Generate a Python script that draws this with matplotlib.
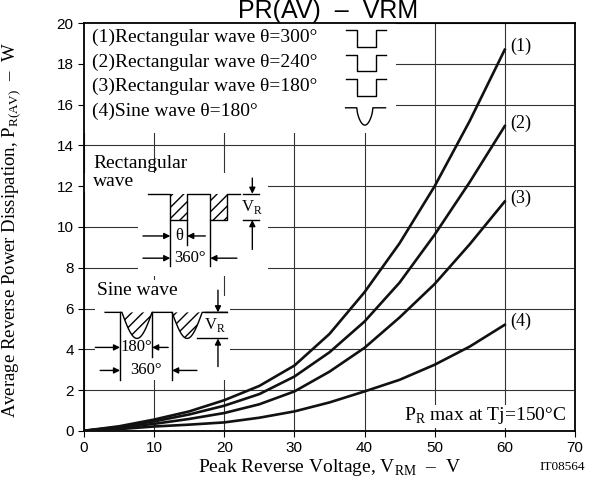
import numpy as np
import matplotlib.pyplot as plt
from matplotlib.patches import Rectangle

plt.rcParams['mathtext.fontset'] = 'custom'
plt.rcParams['mathtext.rm'] = 'Liberation Serif'
plt.rcParams['mathtext.sf'] = 'Liberation Sans'

SERIF = 'Liberation Serif'
SANS = 'Liberation Sans'

# values, every 5 V
voltage = [0, 5, 10, 15, 20, 25, 30, 35, 40, 45, 50, 55, 60]
p_rect300 = [0, 0.22, 0.55, 0.95, 1.5, 2.2, 3.2, 4.75, 6.8, 9.2, 12.0, 15.2, 18.7]
p_rect240 = [0, 0.18, 0.46, 0.8, 1.23, 1.8, 2.66, 3.85, 5.36, 7.27, 9.62, 12.2, 14.95]
p_rect180 = [0, 0.14, 0.34, 0.58, 0.87, 1.3, 1.93, 2.9, 4.07, 5.56, 7.2, 9.15, 11.25]
p_sine180 = [0, 0.08, 0.21, 0.3, 0.41, 0.64, 0.95, 1.39, 1.93, 2.5, 3.24, 4.13, 5.2]
curves = [p_rect300, p_rect240, p_rect180, p_sine180]
curve_tags = ['(1)', '(2)', '(3)', '(4)']

legend_lines = ['(1)Rectangular wave θ=300°',
                '(2)Rectangular wave θ=240°',
                '(3)Rectangular wave θ=180°',
                '(4)Sine wave θ=180°']

fig = plt.figure(figsize=(5.92, 4.84), dpi=100)
ax = fig.add_axes([0.142, 0.11, 0.829, 0.842])

ax.set_xlim(0, 70)
ax.set_ylim(0, 20)
ax.set_xticks(range(0, 71, 10))
ax.set_yticks(range(0, 21, 2))
ax.set_axisbelow(True)
ax.grid(True, color='#333333', linewidth=0.8)
ax.tick_params(labelsize=11, length=4, width=0.8, direction='out')
for lab in ax.get_xticklabels() + ax.get_yticklabels():
    lab.set_family(SANS)
for s in ax.spines.values():
    s.set_linewidth(1.3)

# white areas that cut the grid behind texts and sketches
masks = [(0, 14.6, 44.5, 5.4),
         (0, 11.7, 26.2, 0.95),
         (7.7, 7.6, 18.5, 4.2),
         (1.6, 2.5, 19.2, 4.1),
         (1.6, 6.6, 11.5, 0.8),
         (42.5, 0.15, 26.4, 1.1)]
for mx, my, mw, mh in masks:
    ax.add_patch(Rectangle((mx, my), mw, mh, facecolor='white', edgecolor='none', zorder=1))

for vals, tag in zip(curves, curve_tags):
    ax.plot(voltage, vals, color='#111111', linewidth=1.9, zorder=3,
            solid_joinstyle='round')
    ax.text(voltage[-1] + 0.8, vals[-1] + 0.15, tag, family=SERIF, fontsize=13,
            va='center', ha='left', zorder=4)

# legend texts with small wave icons
for i, line in enumerate(legend_lines):
    y = 19.3 - i * 1.2
    ax.text(1.1, y, line, family=SERIF, fontsize=14, va='center', ha='left', zorder=4)

lw = 1.0
for i in range(3):
    top = 19.65 - i * 1.2
    bot = top - 0.8
    ax.plot([37.3, 38.9, 38.9, 41.6, 41.6, 43.0], [top, top, bot, bot, top, top],
            color='black', linewidth=lw, zorder=4)
st = np.linspace(0, 1, 30)
sx = np.concatenate([[37.3], 38.9 + 2.3 * st, [43.0]])
sy = np.concatenate([[15.85], 15.85 - 0.85 * np.sin(np.pi * st) ** 0.6, [15.85]])
ax.plot(sx, sy, color='black', linewidth=lw, zorder=4)

# rectangular wave sketch
ax.text(1.3, 13.1, 'Rectangular', family=SERIF, fontsize=14, va='center', zorder=4)
ax.text(1.3, 12.25, 'wave', family=SERIF, fontsize=14, va='center', zorder=4)
rt, rb = 11.63, 10.34
ax.plot([9.1, 12.3, 12.3, 14.7, 14.7, 18.0, 18.0, 20.4, 20.4, 22.3],
        [rt, rt, rb, rb, rt, rt, rb, rb, rt, rt], color='black', linewidth=lw, zorder=4)
for a, b in [(12.3, 14.7), (18.0, 20.4)]:
    ax.add_patch(Rectangle((a, rb), b - a, rt - rb, facecolor='white', edgecolor='black',
                           linewidth=0, hatch='///', zorder=3))
ax.plot([12.3, 12.3], [rb, 8.1], color='black', linewidth=lw, zorder=4)
ax.plot([14.7, 14.7], [rb, 9.1], color='black', linewidth=lw, zorder=4)
ax.plot([18.0, 18.0], [rb, 8.1], color='black', linewidth=lw, zorder=4)
arr = dict(arrowstyle='-|>', color='black', lw=lw, mutation_scale=9, shrinkA=0, shrinkB=0)
ax.annotate('', xy=(12.3, 9.56), xytext=(8.4, 9.56), arrowprops=arr, zorder=4)
ax.annotate('', xy=(14.7, 9.56), xytext=(17.3, 9.56), arrowprops=arr, zorder=4)
ax.text(13.5, 9.56, 'θ', family=SERIF, fontsize=12, ha='center', va='center', zorder=4)
ax.annotate('', xy=(12.3, 8.47), xytext=(8.4, 8.47), arrowprops=arr, zorder=4)
ax.annotate('', xy=(18.0, 8.47), xytext=(21.8, 8.47), arrowprops=arr, zorder=4)
ax.text(15.15, 8.47, '360°', family=SERIF, fontsize=12, ha='center', va='center', zorder=4)
ax.plot([22.7, 25.0], [rt, rt], color='black', linewidth=lw, zorder=4)
ax.plot([22.7, 25.0], [rb, rb], color='black', linewidth=lw, zorder=4)
ax.annotate('', xy=(24.0, rt), xytext=(24.0, 12.4), arrowprops=arr, zorder=4)
ax.annotate('', xy=(24.0, rb), xytext=(24.0, 8.9), arrowprops=arr, zorder=4)
ax.text(24.0, 10.98, r'V$_\mathrm{R}$', family=SERIF, fontsize=12, ha='center', va='center', zorder=4)

# sine wave sketch
ax.text(1.85, 6.9, 'Sine wave', family=SERIF, fontsize=14, va='center', zorder=4)
top, dep = 5.81, 1.28
wx, wy = [3.0], [top]
for a, b in [(5.4, 9.7), (12.55, 16.85)]:
    xs = a + (b - a) * st
    ys = top - dep * np.sin(np.pi * st)
    ax.fill_between(xs, ys, top, facecolor='white', edgecolor='black', linewidth=0,
                    hatch='///', zorder=3)
    wx += list(xs)
    wy += list(ys)
wx.append(20.4)
wy.append(top)
ax.plot(wx, wy, color='black', linewidth=lw, zorder=4)
ax.plot([5.14, 5.14], [top, 2.5], color='black', linewidth=lw, zorder=4)
ax.plot([9.7, 9.7], [top, 3.6], color='black', linewidth=lw, zorder=4)
ax.plot([12.55, 12.55], [top, 2.5], color='black', linewidth=lw, zorder=4)
ax.annotate('', xy=(5.14, 4.09), xytext=(1.6, 4.09), arrowprops=arr, zorder=4)
ax.annotate('', xy=(9.7, 4.09), xytext=(12.0, 4.09), arrowprops=arr, zorder=4)
ax.text(7.42, 4.09, '180°', family=SERIF, fontsize=12, ha='center', va='center', zorder=4)
ax.annotate('', xy=(5.14, 2.96), xytext=(2.3, 2.96), arrowprops=arr, zorder=4)
ax.annotate('', xy=(12.55, 2.96), xytext=(16.1, 2.96), arrowprops=arr, zorder=4)
ax.text(8.85, 2.96, '360°', family=SERIF, fontsize=12, ha='center', va='center', zorder=4)
ax.plot([17.3, 20.4], [top, top], color='black', linewidth=lw, zorder=4)
ax.plot([16.1, 20.4], [top - dep, top - dep], color='black', linewidth=lw, zorder=4)
ax.annotate('', xy=(19.1, top), xytext=(19.1, 6.9), arrowprops=arr, zorder=4)
ax.annotate('', xy=(19.1, top - dep), xytext=(19.1, 3.15), arrowprops=arr, zorder=4)
ax.text(18.7, 5.17, r'V$_\mathrm{R}$', family=SERIF, fontsize=12, ha='center', va='center', zorder=4)

ax.text(68.7, 0.75, r'P$_\mathrm{R}$ max at Tj=150°C', family=SERIF, fontsize=14,
        ha='right', va='center', zorder=4)

fig.text(0.554, 0.963, 'PR(AV)  –  VRM', family=SANS, fontsize=18,
         ha='center', va='baseline')
fig.text(0.556, 0.035, r'Peak Reverse Voltage, V$_\mathrm{RM}$  –  V', family=SERIF,
         fontsize=14, ha='center', va='center')
fig.text(0.02, 0.525, r'Average Reverse Power Dissipation, P$_\mathrm{R(AV)}$  –  W',
         family=SERIF, fontsize=13.5, rotation=90, ha='center', va='center')
fig.text(0.988, 0.035, 'IT08564', family=SERIF, fontsize=9.5, ha='right', va='center')

fig.savefig('out.png', dpi=100)
